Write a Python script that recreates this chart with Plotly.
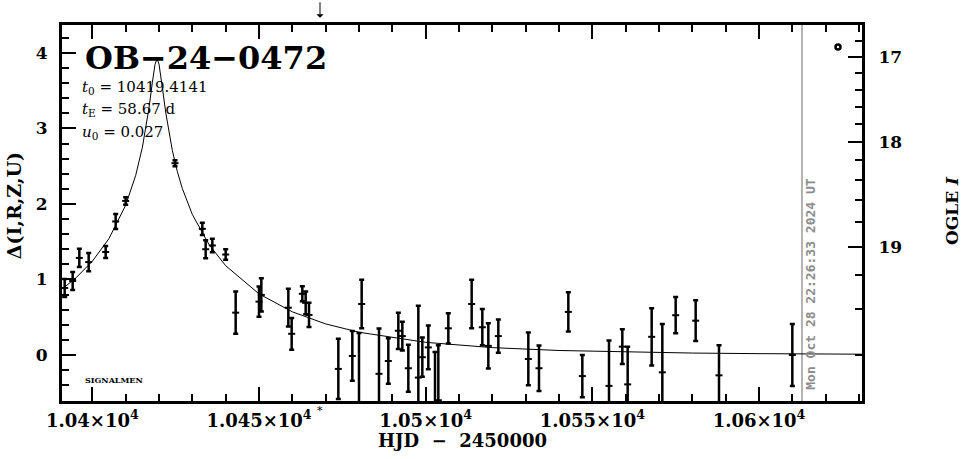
import plotly.graph_objects as go

# ---------------- data ----------------
hjd = [10391.7, 10394.1, 10396.1, 10398.9, 10404.0, 10407.0, 10410.0, 10424.8,
       10433.0, 10434.0, 10436.0, 10440.0, 10443.0, 10450.0, 10450.7, 10458.8,
       10459.8, 10463.0, 10464.0, 10465.0, 10473.8, 10478.0, 10480.0, 10480.8,
       10486.0, 10488.8, 10491.8, 10493.0, 10494.8, 10497.8, 10499.0, 10500.8,
       10502.8, 10503.8, 10506.8, 10513.8, 10517.0, 10518.8, 10521.8, 10530.8,
       10534.0, 10542.8, 10547.0, 10555.0, 10559.0, 10560.6, 10567.8, 10571.0,
       10575.0, 10581.0, 10588.0, 10610.0]
dmag = [0.887, 0.98, 1.285, 1.23, 1.364, 1.768, 2.04, 2.54,
        1.67, 1.40, 1.45, 1.33, 0.56, 0.706, 0.795, 0.626,
        0.28, 0.81, 0.69, 0.53, -0.185, -0.013, -0.65, 0.675,
        -0.25, -0.08, 0.32, 0.25, -0.176, -0.30, -0.03, 0.10,
        -0.65, -0.60, 0.353, 0.675, 0.367, 0.12, 0.25, -0.053,
        -0.176, 0.57, -0.28, -0.41, 0.11, -0.39, 0.24, -0.23,
        0.526, 0.454, -0.27, 0.0]
derr = [0.12, 0.12, 0.12, 0.12, 0.08, 0.10, 0.05, 0.04,
        0.08, 0.12, 0.09, 0.07, 0.28, 0.20, 0.22, 0.25,
        0.21, 0.10, 0.15, 0.16, 0.40, 0.33, 0.94, 0.32,
        0.60, 0.30, 0.24, 0.19, 0.31, 0.95, 0.26, 0.29,
        0.69, 0.73, 0.20, 0.32, 0.24, 0.30, 0.22, 0.35,
        0.30, 0.26, 0.28, 0.60, 0.23, 0.50, 0.38, 0.64,
        0.24, 0.27, 0.40, 0.41]

# model curve
model_t = [10391, 10395, 10400, 10405, 10410, 10413, 10415, 10416, 10417, 10418,
           10418.8, 10419.4, 10420, 10421, 10422, 10424, 10425.5, 10427, 10430,
           10435, 10440, 10450, 10460, 10470, 10480, 10500, 10520, 10540,
           10560, 10580, 10600, 10631]
model_d = [0.875, 1.017, 1.241, 1.542, 1.983, 2.377, 2.747, 2.985, 3.272, 3.606,
           3.847, 3.922, 3.851, 3.544, 3.217, 2.708, 2.429, 2.204, 1.860,
           1.462, 1.182, 0.809, 0.571, 0.411, 0.301, 0.167, 0.097, 0.059,
           0.038, 0.025, 0.017, 0.010]

# tick labels
x_ticks = [10400, 10450, 10500, 10550, 10600]
x_ticktext = ["1.04×10<sup>4</sup>", "1.045×10<sup>4</sup>", "1.05×10<sup>4</sup>",
              "1.055×10<sup>4</sup>", "1.06×10<sup>4</sup>"]
y_ticks = [0, 1, 2, 3, 4]
ogle_mag_labels = ["17", "18", "19"]
ogle_mag_pos = [3.947, 2.823, 1.430]
ogle_minor_pos = [4.160, 3.731, 3.512, 3.288, 3.059, 2.578, 2.321, 2.049, 1.755,
                  1.058, 0.607, 0.0]

event_name = "OB−24−0472"
t0_text = "10419.4141"
tE_text = "58.67"
u0_text = "0.027"
now_line_hjd = [10612.9]
now_text = "Mon Oct 28 22:26:33 2024 UT"
marker_hjd = [10468.3]
circle_pt = ([10623.7], [4.08])

X_RANGE = [10390.9, 10630.9]
Y_RANGE = [-0.61, 4.37]
SERIF = "DejaVu Serif"

fig = go.Figure()

# "now" vertical gray line
fig.add_trace(go.Scatter(x=[now_line_hjd[0], now_line_hjd[0]], y=Y_RANGE,
                         mode="lines", line=dict(color="#9a9a9a", width=1.5),
                         hoverinfo="skip", showlegend=False))

# model curve
fig.add_trace(go.Scatter(x=model_t, y=model_d, mode="lines",
                         line=dict(color="black", width=1), showlegend=False))

# data points
fig.add_trace(go.Scatter(
    x=hjd, y=dmag, mode="markers",
    marker=dict(symbol="line-ew", size=5, color="black",
                line=dict(color="black", width=2)),
    error_y=dict(type="data", array=derr, visible=True, color="black",
                 thickness=2.5, width=2.5),
    showlegend=False, cliponaxis=True))

# small circle top-right (on right axis so it gets drawn)
fig.add_trace(go.Scatter(x=circle_pt[0], y=circle_pt[1], yaxis="y2", mode="markers",
                         marker=dict(symbol="circle-open", size=5, color="black",
                                     line=dict(width=2.5, color="black")),
                         showlegend=False))

tickfont = dict(family=SERIF, size=17, color="black", weight="bold")
xtickfont = dict(family=SERIF, size=18, color="black", weight="bold")

fig.update_layout(
    width=965, height=459,
    margin=dict(l=62, r=103, t=25, b=58),
    paper_bgcolor="white", plot_bgcolor="white",
    xaxis=dict(range=X_RANGE, tickmode="array", tickvals=x_ticks, ticktext=x_ticktext,
               ticks="inside", ticklen=14, tickwidth=2, tickcolor="black",
               minor=dict(tickmode="array",
                          tickvals=list(range(10400, 10631, 10)),
                          ticks="inside", ticklen=7, tickwidth=2, tickcolor="black"),
               showline=True, linewidth=3, linecolor="black", mirror="ticks",
               showgrid=False, zeroline=False, tickfont=xtickfont,
               ticklabelstandoff=1),
    yaxis=dict(range=Y_RANGE, tickmode="array", tickvals=y_ticks,
               ticks="inside", ticklen=14, tickwidth=2, tickcolor="black",
               minor=dict(tick0=0, dtick=0.2, ticks="inside", ticklen=7,
                          tickwidth=2, tickcolor="black"),
               showline=True, linewidth=3, linecolor="black", mirror=True,
               showgrid=False, zeroline=False, tickfont=tickfont,
               ticklabelstandoff=8),
    yaxis2=dict(range=Y_RANGE, overlaying="y", side="right", tickmode="array",
                tickvals=ogle_mag_pos, ticktext=ogle_mag_labels,
                ticks="inside", ticklen=14, tickwidth=2, tickcolor="black",
                minor=dict(tickmode="array", tickvals=ogle_minor_pos, ticks="inside",
                           ticklen=7, tickwidth=2, tickcolor="black"),
                showline=True, linewidth=3, linecolor="black",
                showgrid=False, zeroline=False, tickfont=tickfont,
                ticklabelstandoff=10),
)

ann = []
# event name
ann.append(dict(x=10397.2, y=3.93, xref="x", yref="y", text=f"<b>{event_name}</b>",
                showarrow=False, xanchor="left", yanchor="middle",
                font=dict(family=SERIF, size=32, color="black")))
pfont = dict(family=SERIF, size=15, color="black")
ann.append(dict(x=10396.3, y=3.536, xref="x", yref="y",
                text=f"<i>t</i><sub>0</sub> = {t0_text}", showarrow=False,
                xanchor="left", yanchor="middle", font=pfont))
ann.append(dict(x=10396.3, y=3.245, xref="x", yref="y",
                text=f"<i>t</i><sub>E</sub> = {tE_text} d", showarrow=False,
                xanchor="left", yanchor="middle", font=pfont))
ann.append(dict(x=10396.3, y=2.94, xref="x", yref="y",
                text=f"<i>u</i><sub>0</sub> = {u0_text}", showarrow=False,
                xanchor="left", yanchor="middle", font=pfont))
ann.append(dict(x=10397.2, y=-0.33, xref="x", yref="y", text="<b>SIGNALMEN</b>",
                showarrow=False, xanchor="left", yanchor="middle",
                font=dict(family=SERIF, size=8, color="black")))
# gray timestamp
ann.append(dict(x=10615.6, y=0.93, xref="x", yref="y", text=f"<b>{now_text}</b>",
                textangle=-90, showarrow=False, xanchor="center", yanchor="middle",
                font=dict(family="DejaVu Sans Mono", size=13, color="#8c8c8c")))
# arrow at top (pointing down at the marked date) and asterisk at bottom
ann.append(dict(x=marker_hjd[0], y=1.019, xref="x", yref="paper", text="",
                showarrow=True, ax=0, ay=-17, arrowhead=1, arrowsize=1.2,
                arrowwidth=1, arrowcolor="black"))
ann.append(dict(x=marker_hjd[0], y=0.0, xref="x", yref="paper", text="*",
                showarrow=False, xanchor="center", yanchor="top", yshift=-1,
                font=dict(family=SERIF, size=11, color="black")))
# axis titles
ann.append(dict(x=0.5, y=-0.106, xref="paper", yref="paper",
                text="<b>HJD  −  2450000</b>", showarrow=False,
                xanchor="center", yanchor="middle",
                font=dict(family=SERIF, size=18, color="black")))
ann.append(dict(x=-0.059, y=0.52, xref="paper", yref="paper",
                text="<b>Δ(I,R,Z,U)</b>", textangle=-90, showarrow=False,
                xanchor="center", yanchor="middle",
                font=dict(family=SERIF, size=19, color="black")))
ann.append(dict(x=1.1125, y=0.505, xref="paper", yref="paper",
                text="<b>OGLE <i>I</i></b>", textangle=-90, showarrow=False,
                xanchor="center", yanchor="middle",
                font=dict(family=SERIF, size=17, color="black")))
fig.update_layout(annotations=ann)

fig.write_html("out.html", config={"displayModeBar": False},
               post_script="document.body.style.margin='0';document.body.style.padding='0';")
